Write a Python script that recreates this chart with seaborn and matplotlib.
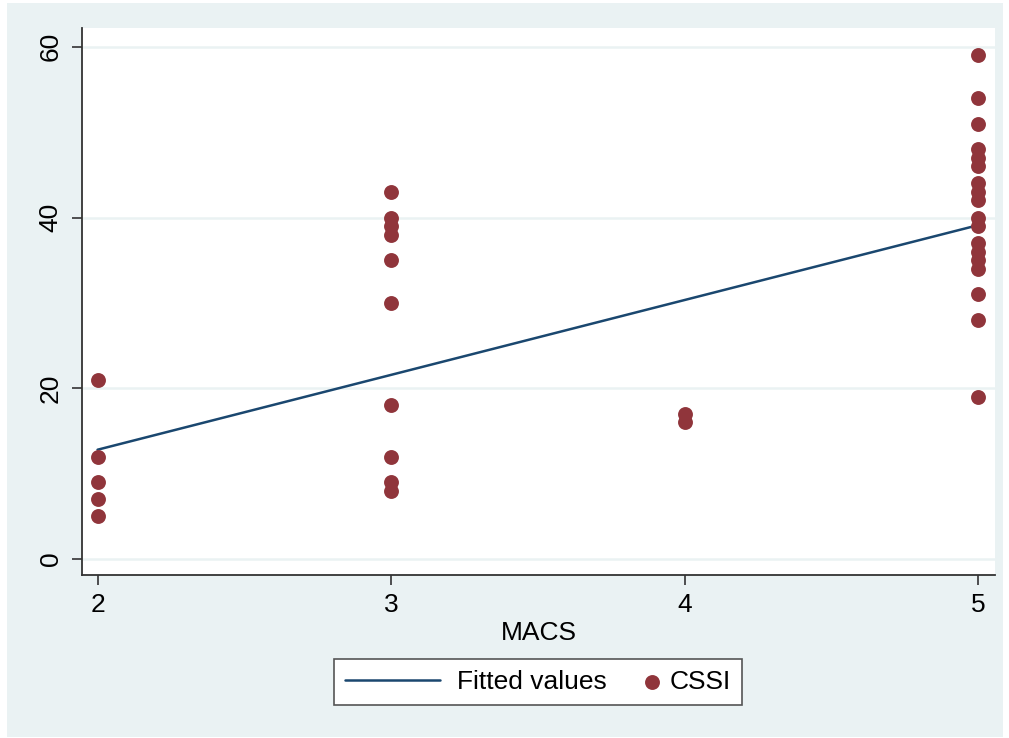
import numpy as np
import pandas as pd
import seaborn as sns
import matplotlib.pyplot as plt
from matplotlib.patches import Rectangle
from matplotlib.legend_handler import HandlerLine2D

# Valores
macs = [2, 2, 2, 2, 2,
        3, 3, 3, 3, 3, 3, 3, 3, 3, 3,
        4, 4,
        5, 5, 5, 5, 5, 5, 5, 5, 5, 5, 5, 5, 5, 5, 5, 5, 5, 5]
cssi = [21, 12, 9, 7, 5,
        43, 40, 39, 38, 35, 30, 18, 12, 9, 8,
        17, 16,
        59, 54, 51, 48, 47, 46, 44, 43, 42, 40, 39, 37, 36, 35, 34, 31, 28, 19]

# Reta ajustada (Fitted values)
fit_x = [2, 5]
fit_y = [12.8, 39.1]

y_ticks = [0, 20, 40, 60]
x_ticks = [2, 3, 4, 5]

pontos = pd.DataFrame({'MACS': macs, 'CSSI': cssi})
reta = pd.DataFrame({'MACS': fit_x, 'Fitted values': fit_y})


# linha da legenda mais comprida que o marcador
class LinhaLonga(HandlerLine2D):
    def legend_artist(self, legend, orig_handle, fontsize, handlebox):
        handlebox.width = handlebox.width * 7.6
        linha = super().legend_artist(legend, orig_handle, fontsize, handlebox)
        x = np.asarray(linha.get_xdata(), dtype=float)
        linha.set_xdata(x[0] + (x - x[0]) * 0.95)
        return linha


sns.set_style('white')
plt.rcParams['font.family'] = ['Liberation Sans', 'DejaVu Sans']

fundo = '#EAF2F3'
fig = plt.figure(figsize=(10.09, 7.38), dpi=100, facecolor='white')
fig.patches.append(Rectangle((7 / 1009, 1 / 738), 996 / 1009, 734 / 738,
                             transform=fig.transFigure, facecolor=fundo,
                             edgecolor='none', zorder=-10))
ax = fig.add_axes([82 / 1009, 1 - 575 / 738, 913 / 1009, 547 / 738])
ax.set_facecolor('white')

sns.lineplot(data=reta, x='MACS', y='Fitted values', ax=ax, color='#1A476F',
             linewidth=1.8, label='Fitted values', zorder=3)
sns.scatterplot(data=pontos, x='MACS', y='CSSI', ax=ax, color='#90353B',
                s=115, linewidth=0, label='CSSI', zorder=4)

ax.set_xlim(1.947, 5.058)
ax.set_ylim(-1.875, 62.2)
ax.set_xticks(x_ticks)
ax.set_yticks(y_ticks)
ax.yaxis.grid(True, color=fundo, linewidth=1.8)
ax.xaxis.grid(False)
ax.set_axisbelow(True)

for lado in ['top', 'right']:
    ax.spines[lado].set_visible(False)
for lado in ['left', 'bottom']:
    ax.spines[lado].set_color('#333333')
    ax.spines[lado].set_linewidth(1.3)

ax.tick_params(axis='both', direction='out', length=7, width=1.2, bottom=True, left=True,
               color='#333333', labelsize=19, labelcolor='black', pad=6)
ax.tick_params(axis='y', labelrotation=90, pad=7)
for t in ax.get_yticklabels():
    t.set_verticalalignment('center')

ax.set_xlabel('MACS', fontsize=19, labelpad=3, color='black')
ax.set_ylabel('')

handles, labels = ax.get_legend_handles_labels()
leg = fig.legend(handles, labels, loc='center', bbox_to_anchor=(538 / 1009, 1 - 682 / 738),
                 ncol=2, fontsize=19, frameon=True, fancybox=False, framealpha=1,
                 handlelength=0.5, columnspacing=1.45, handletextpad=0.45,
                 borderpad=0.4, handler_map={handles[0]: LinhaLonga()})
leg.get_frame().set_edgecolor('#555555')
leg.get_frame().set_linewidth(1.2)
for t in leg.get_texts():
    t.set_color('black')
if ax.get_legend() is not None:
    ax.get_legend().remove()

fig.savefig('out.png', dpi=100, facecolor=fig.get_facecolor())
